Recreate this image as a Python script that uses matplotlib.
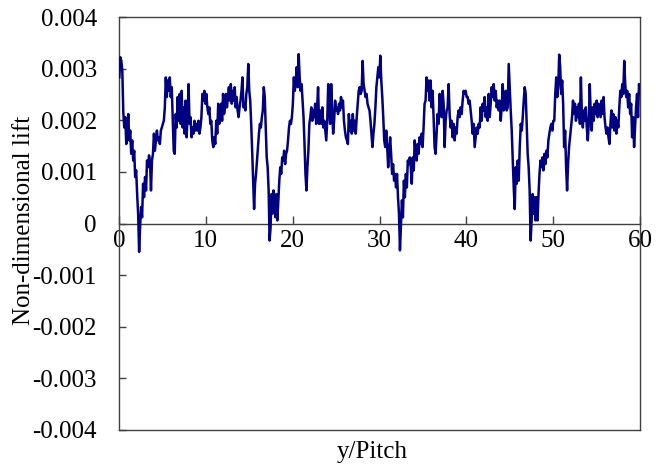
import numpy as np
import matplotlib
matplotlib.use("Agg")
import matplotlib.pyplot as plt

plt.rcParams["font.family"] = ["Liberation Serif", "DejaVu Serif"]
plt.rcParams["axes.unicode_minus"] = False

# Lift record (units of 1e-3), stored in five consecutive stretches of y/Pitch.
# Each stretch is sampled uniformly between its start and end positions.
seg_start = [0.04, 11.65, 23.19, 34.73, 46.27]
seg_end = [11.54, 23.15, 34.62, 46.15, 60.0]

lift_a = [2.83, 3.22, 3.15, 2.96, 2.15, 1.86, 2.06, 1.54, 1.74, 2.12, 1.61, 1.8, 1.35, 1.61, 1.22,
          1.41, 0.9, 1.03, 0.57, 0.19, -0.55, -0.07, 0.32, 0.12, 0.77, 0.51, 0.9, 0.64, 1.22, 1.09,
          1.32, 1.22, 0.64, 1.22, 1.35, 1.74, 1.41, 1.61, 1.8, 1.61, 1.67, 1.54, 1.8, 1.86, 1.93,
          1.99, 2.25, 2.83, 2.45, 2.77, 2.57, 2.83, 2.45, 2.64, 1.99, 1.41, 1.35, 2.12, 1.86, 2.45,
          1.99, 2.51, 1.93, 2.57, 1.86, 2.25, 1.74, 2.38, 1.67, 2.06, 2.7, 1.93, 2.06, 1.67, 1.86,
          1.74, 1.99, 1.8, 1.93, 1.8, 1.99, 1.74, 1.86, 2.06, 2.51, 2.38, 2.57, 2.32, 2.51, 2.25,
          2.12, 2.25, 1.93, 1.99, 1.61, 1.48, 1.67, 1.54, 1.99, 1.74, 2.32, 1.93]

lift_b = [2.06, 2.32, 1.99, 2.51, 2.12, 2.25, 2.51, 2.25, 2.45, 2.64, 2.38, 2.7, 2.32, 2.57, 2.38,
          2.64, 2.25, 2.45, 2.19, 2.06, 2.25, 2.38, 2.57, 2.83, 2.25, 2.32, 2.19, 2.51, 2.64, 3.09,
          2.57, 2.38, 1.93, 1.41, 0.83, 0.28, 0.77, 0.96, 1.22, 1.48, 1.74, 1.93, 1.86, 2.06, 2.19,
          2.64, 2.45, 1.86, 1.28, 1.09, 0.64, -0.33, -0.07, 0.57, 0.19, 0.64, 0.32, 0.12, 0.57, 0.06,
          0.45, 0.83, 1.09, 0.96, 1.28, 1.22, 1.41, 1.15, 1.35, 1.41, 1.61, 1.86, 1.99, 1.93, 2.06,
          2.32, 2.83, 2.57, 2.77, 3.03, 2.64, 3.28, 2.83, 2.57, 2.7, 2.38, 2.06, 1.54, 0.96, 0.64,
          1.09, 1.41, 1.93, 2.06, 2.25, 1.99, 2.19, 2.06, 2.32, 1.93, 2.25, 2.64, 1.93, 2.19]

lift_c = [2.12, 1.93, 2.25, 1.86, 1.99, 1.8, 1.61, 1.99, 2.7, 2.25, 1.93, 2.7, 2.19, 1.74, 1.99,
          2.38, 2.19, 2.25, 2.12, 2.32, 2.19, 2.45, 2.25, 2.38, 1.99, 1.8, 1.67, 1.61, 1.54, 2.12,
          1.8, 1.99, 1.74, 2.12, 1.8, 1.99, 1.74, 2.06, 2.32, 2.57, 2.64, 2.51, 2.57, 3.15, 2.7,
          2.57, 2.45, 2.51, 2.32, 2.25, 2.19, 1.99, 1.74, 1.48, 1.74, 1.93, 2.25, 2.64, 2.83, 3.03,
          2.83, 3.25, 2.77, 2.45, 2.06, 1.61, 1.48, 1.8, 1.48, 1.09, 1.41, 1.67, 1.35, 0.96, 1.15,
          0.83, 0.96, 0.7, 0.96, 0.51, 0.19, -0.52, -0.01, 0.45, 0.12, 0.83, 0.51, 0.96, 0.7, 1.22,
          1.15, 1.28, 1.09, 0.77, 1.28, 1.03, 1.61, 1.35, 1.22, 1.54, 1.35, 1.67]

lift_d = [1.54, 1.74, 1.48, 1.86, 2.32, 2.38, 2.83, 2.57, 2.77, 2.38, 2.77, 2.25, 2.57, 2.06, 1.48,
          1.35, 1.74, 2.12, 1.93, 2.51, 2.25, 2.06, 2.57, 2.32, 1.48, 1.99, 2.19, 2.25, 2.7, 2.12,
          1.86, 1.99, 1.67, 1.93, 1.61, 1.86, 1.74, 2.06, 2.19, 2.06, 2.25, 2.12, 2.38, 2.57, 2.51,
          2.57, 2.45, 2.45, 2.32, 2.38, 2.19, 1.99, 1.74, 1.93, 1.48, 1.67, 1.86, 1.74, 1.93, 1.86,
          2.25, 1.99, 2.32, 2.19, 2.45, 2.06, 2.25, 1.99, 2.51, 2.06, 2.32, 2.64, 2.45, 2.7, 2.38,
          2.57, 2.25, 2.38, 2.19, 2.38, 1.99, 2.25, 2.7, 2.19, 2.25, 2.57, 2.19, 2.25, 3.09, 2.64,
          2.19, 1.8, 1.22, 0.7, 0.28, 1.09, 0.77, 1.22, 0.83, 1.48]

lift_e = [1.93, 1.8, 2.06, 2.38, 2.64, 2.51, 1.93, 1.35, 1.09, 0.64, -0.33, 0.06, 0.57, 0.19, 0.51,
          0.06, 0.51, 0.06, 0.57, 0.96, 1.22, 1.09, 1.28, 1.03, 1.35, 1.15, 1.41, 1.28, 1.61, 1.74,
          1.86, 1.93, 1.8, 1.99, 1.99, 2.51, 2.83, 2.45, 2.64, 3.27, 3.03, 2.51, 2.77, 2.32, 1.48,
          1.8, 1.09, 0.64, 1.15, 1.48, 1.67, 1.86, 2.06, 2.38, 2.12, 2.32, 1.99, 2.25, 2.06, 2.32,
          1.93, 2.83, 2.12, 1.86, 2.19, 1.99, 2.25, 1.86, 1.61, 1.93, 2.7, 2.12, 1.8, 2.25, 1.99,
          2.32, 2.12, 2.38, 2.06, 2.32, 2.19, 2.06, 2.38, 2.12, 2.45, 2.06, 1.86, 1.74, 1.86, 1.67,
          1.54, 1.93, 2.19, 1.86, 2.12, 1.8, 2.06, 1.74, 1.99, 1.86, 2.25, 2.57, 2.45, 2.7, 2.51,
          3.15, 2.7, 2.45, 2.57, 2.25, 2.51, 2.12, 2.32, 1.67, 2.06, 1.48, 1.86, 2.25, 2.51, 2.06,
          2.7, 2.57]

x_ticks = [0, 10, 20, 30, 40, 50, 60]
y_ticks = [-0.004, -0.003, -0.002, -0.001, 0.0, 0.001, 0.002, 0.003, 0.004]
y_tick_labels = ["-0.004", "-0.003", "-0.002", "-0.001", "0", "0.001", "0.002", "0.003", "0.004"]

segments = [lift_a, lift_b, lift_c, lift_d, lift_e]
pitch = np.concatenate([np.linspace(s, e, len(v)) for s, e, v in zip(seg_start, seg_end, segments)])
lift = np.concatenate([np.asarray(v) for v in segments]) * 1e-3

frame_col = "#404040"
fs = 18

fig = plt.figure(figsize=(6.66, 4.66), dpi=100)
ax = fig.add_axes([119 / 666, 1 - 430 / 466, (640 - 119) / 666, (430 - 17) / 466])

ax.plot(pitch, lift, color="#000080", lw=1.8, zorder=3)

ax.set_xlim(0, 60)
ax.set_ylim(-0.004, 0.004)
for sp in ax.spines.values():
    sp.set_color(frame_col)
    sp.set_linewidth(1.0)

ax.tick_params(axis="x", bottom=False, labelbottom=False)
ax.set_yticks(y_ticks)
ax.set_yticklabels(y_tick_labels)
ax.tick_params(axis="y", direction="in", length=5, width=1, color=frame_col,
               labelsize=fs, pad=16, labelcolor="black")

# x axis drawn through y = 0
sec = ax.secondary_xaxis(0.5)
sec.set_alignment("bottom")
sec.set_xticks(x_ticks)
sec.tick_params(axis="x", direction="in", length=6, width=1, color=frame_col,
                labelsize=fs, pad=5, labelcolor="black")
sec.spines["bottom"].set_color(frame_col)
sec.spines["bottom"].set_linewidth(1.0)

fig.text(372 / 666, 1 - 452 / 466, "y/Pitch", ha="center", va="center", fontsize=fs)
fig.text(24 / 666, 1 - 220 / 466, "Non-dimensional lift", ha="center", va="center",
         rotation=90, fontsize=fs)

fig.savefig("out.png", dpi=100)
